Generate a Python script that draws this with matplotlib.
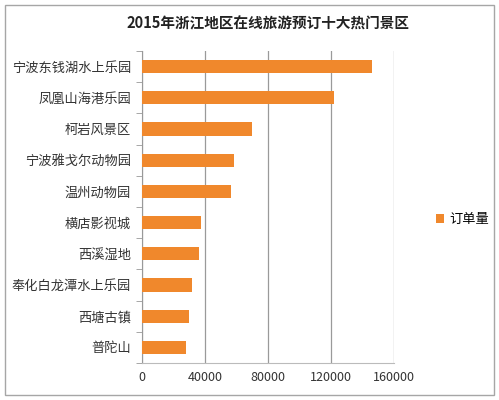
import matplotlib
matplotlib.use('Agg')
import numpy as np
import matplotlib.pyplot as plt
from matplotlib.patches import Rectangle

plt.rcParams['font.family'] = ['Noto Sans CJK SC', 'DejaVu Sans']

# Scenic spots, top to bottom, and their order counts
spots = ['宁波东钱湖水上乐园', '凤凰山海港乐园', '柯岩风景区', '宁波雅戈尔动物园', '温州动物园',
         '横店影视城', '西溪湿地', '奉化白龙潭水上乐园', '西塘古镇', '普陀山']
orders = [146400, 122200, 70100, 58800, 56700, 37600, 36500, 31700, 29800, 28000]
x_ticks = [0, 40000, 80000, 120000, 160000]

fig = plt.figure(figsize=(4.99, 4.0), dpi=100)

# outer frame like the Excel chart area
fig.patches.append(Rectangle((5 / 499, 5 / 400), 489 / 499, 390 / 400, transform=fig.transFigure,
                             fill=False, edgecolor='#a6a6a6', linewidth=1))

ax = fig.add_axes([142 / 499, 37 / 400, 251.7 / 499, 312 / 400])

y = np.arange(len(spots))[::-1]
ax.barh(y, orders, height=0.42, color='#f0882c', edgecolor='none', zorder=3)

ax.set_xlim(0, 160000)
ax.set_ylim(-0.5, len(spots) - 0.5)
ax.set_xticks(x_ticks)
ax.set_xticklabels([str(v) for v in x_ticks], fontsize=9, color='#333333')
ax.set_yticks(y)
ax.set_yticklabels(spots, fontsize=9.5, color='#333333')
ax.set_yticks(np.arange(len(spots) + 1) - 0.5, minor=True)
ax.tick_params(axis='y', which='major', length=0, pad=8)
ax.tick_params(axis='y', which='minor', length=4, color='#999999', direction='out')
ax.tick_params(axis='x', length=0, pad=6)

ax.grid(axis='x', color='#9a9a9a', linewidth=0.9, zorder=0)
for side in ['top', 'right']:
    ax.spines[side].set_visible(False)
ax.spines['left'].set_color('#999999')
ax.spines['bottom'].set_color('#bbbbbb')

ax.set_title('2015年浙江地区在线旅游预订十大热门景区', fontsize=10.5, fontweight='bold',
             color='#222222', pad=16)

ax.legend(['订单量'], loc='center left', bbox_to_anchor=(1.12, 0.46), frameon=False,
          fontsize=9.5, handlelength=0.6, handleheight=0.6, handletextpad=0.4)

fig.savefig('out.png', dpi=100)
